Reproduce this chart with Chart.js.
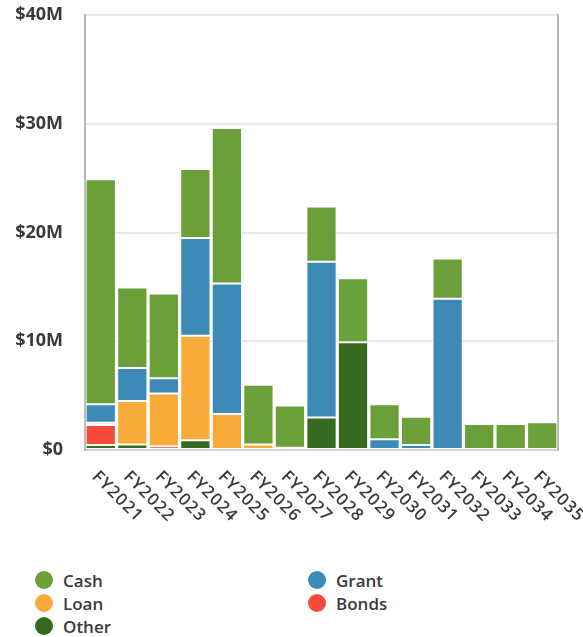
<!DOCTYPE html>
<html>
<head>
<meta charset="utf-8">
<script src="https://cdn.jsdelivr.net/npm/chart.js@4"></script>
<style>
  html, body { margin: 0; padding: 0; background: #fff; }
  #wrap { position: relative; width: 583px; height: 637px; overflow: hidden; }
  #wrap canvas { position: absolute; left: 0; top: 0; }
  #legend { position: absolute; left: 35px; top: 571px; display: grid; grid-template-columns: 273px 200px; row-gap: 5px;
            font-family: "Open Sans", sans-serif; font-weight: 600; font-size: 17px; color: #3a3a3a; }
  .item { display: flex; align-items: center; height: 18px; }
  .dot { width: 18px; height: 18px; border-radius: 50%; margin-right: 10px; }
</style>
</head>
<body>
<div id="wrap">
  <canvas id="fundingChart" width="583" height="550"></canvas>
  <div id="legend"></div>
</div>
<script>
const years = ['FY2021', 'FY2022', 'FY2023', 'FY2024', 'FY2025', 'FY2026', 'FY2027', 'FY2028',
               'FY2029', 'FY2030', 'FY2031', 'FY2032', 'FY2033', 'FY2034', 'FY2035'];

// values in $M
const cash   = [20.7, 7.4, 7.8, 6.35, 14.3, 5.5, 3.9, 5.1, 5.9, 3.2, 2.6, 3.7, 2.4, 2.4, 2.55];
const grant  = [1.7, 3.05, 1.4, 9.0, 12.0, 0, 0.2, 14.3, 0, 1.0, 0.45, 13.9, 0, 0, 0];
const loan   = [0.2, 4.0, 4.85, 9.6, 3.3, 0.5, 0, 0, 0, 0, 0, 0, 0, 0, 0];
const bonds  = [1.85, 0, 0.35, 0, 0, 0, 0, 0, 0, 0, 0, 0, 0, 0, 0];
const other  = [0.45, 0.5, 0, 0.9, 0, 0, 0, 3.0, 9.9, 0, 0, 0, 0, 0, 0];

const yTicks = [0, 10, 20, 30, 40];

const textColor = '#3a3a3a';
const fontFamily = '"Open Sans", sans-serif';

// stacked bottom -> top: Other, Bonds, Loan, Grant, Cash
const series = [
    {label: 'Other', data: other, color: '#366a21'},
    {label: 'Bonds', data: bonds, color: '#f74a39'},
    {label: 'Loan',  data: loan,  color: '#f8ab38'},
    {label: 'Grant', data: grant, color: '#3c8ab5'},
    {label: 'Cash',  data: cash,  color: '#6a9f3a'}
];
const legendOrder = ['Cash', 'Grant', 'Loan', 'Bonds', 'Other'];

const datasets = series.map(s => ({
    label: s.label,
    data: s.data,
    backgroundColor: s.color,
    borderColor: '#ffffff',
    borderWidth: 1,
    borderSkipped: false,
    barPercentage: 0.96,
    categoryPercentage: 1.0
}));

// rotated labels that hang down to the right of each tick
const slantedLabels = {
    id: 'slantedLabels',
    afterDraw(chart) {
        const ctx = chart.ctx;
        const x = chart.scales.x;
        ctx.save();
        ctx.font = '600 17px ' + fontFamily;
        ctx.letterSpacing = '1px';
        ctx.fillStyle = textColor;
        ctx.textAlign = 'left';
        ctx.textBaseline = 'top';
        years.forEach((label, i) => {
            const px = x.getPixelForTick(i);
            ctx.save();
            ctx.translate(px, x.top + 18);
            ctx.rotate(Math.PI / 4);
            ctx.fillText(label, 0, 0);
            ctx.restore();
        });
        ctx.restore();
    }
};

new Chart(document.getElementById('fundingChart').getContext('2d'), {
    type: 'bar',
    data: {
        labels: years,
        datasets: datasets
    },
    options: {
        responsive: false,
        animation: false,
        layout: {padding: {top: 15, right: 0, bottom: 0, left: 0}},
        plugins: {
            legend: {display: false},
            tooltip: {enabled: false}
        },
        scales: {
            x: {
                stacked: true,
                grid: {display: false},
                border: {color: '#cfd5e2', width: 2},
                ticks: {display: false},
                afterFit: scale => { scale.height = 100; }
            },
            y: {
                stacked: true,
                min: 0,
                max: 40,
                afterBuildTicks: scale => { scale.ticks = yTicks.map(v => ({value: v})); },
                grid: {color: '#e8e8e8', lineWidth: 2, drawTicks: true, tickLength: 20, tickColor: 'rgba(0,0,0,0)'},
                border: {color: '#b8b8b8', width: 2},
                ticks: {
                    padding: 2,
                    color: textColor,
                    font: {family: fontFamily, size: 18, weight: '700'},
                    callback: v => v === 0 ? '$0' : '$' + v + 'M'
                },
                afterFit: scale => { scale.width = 85; }
            },
            y2: {
                position: 'right',
                min: 0,
                max: 40,
                grid: {display: false, drawTicks: false},
                border: {color: '#b8b8b8', width: 2},
                ticks: {display: false},
                afterFit: scale => { scale.width = 25; }
            }
        }
    },
    plugins: [slantedLabels]
});

// legend in two columns, built from the datasets
const legendBox = document.getElementById('legend');
legendOrder.forEach(name => {
    const s = series.find(d => d.label === name);
    const item = document.createElement('div');
    item.className = 'item';
    item.innerHTML = '<span class="dot" style="background:' + s.color + '"></span><span>' + s.label + '</span>';
    legendBox.appendChild(item);
});
</script>
</body>
</html>
